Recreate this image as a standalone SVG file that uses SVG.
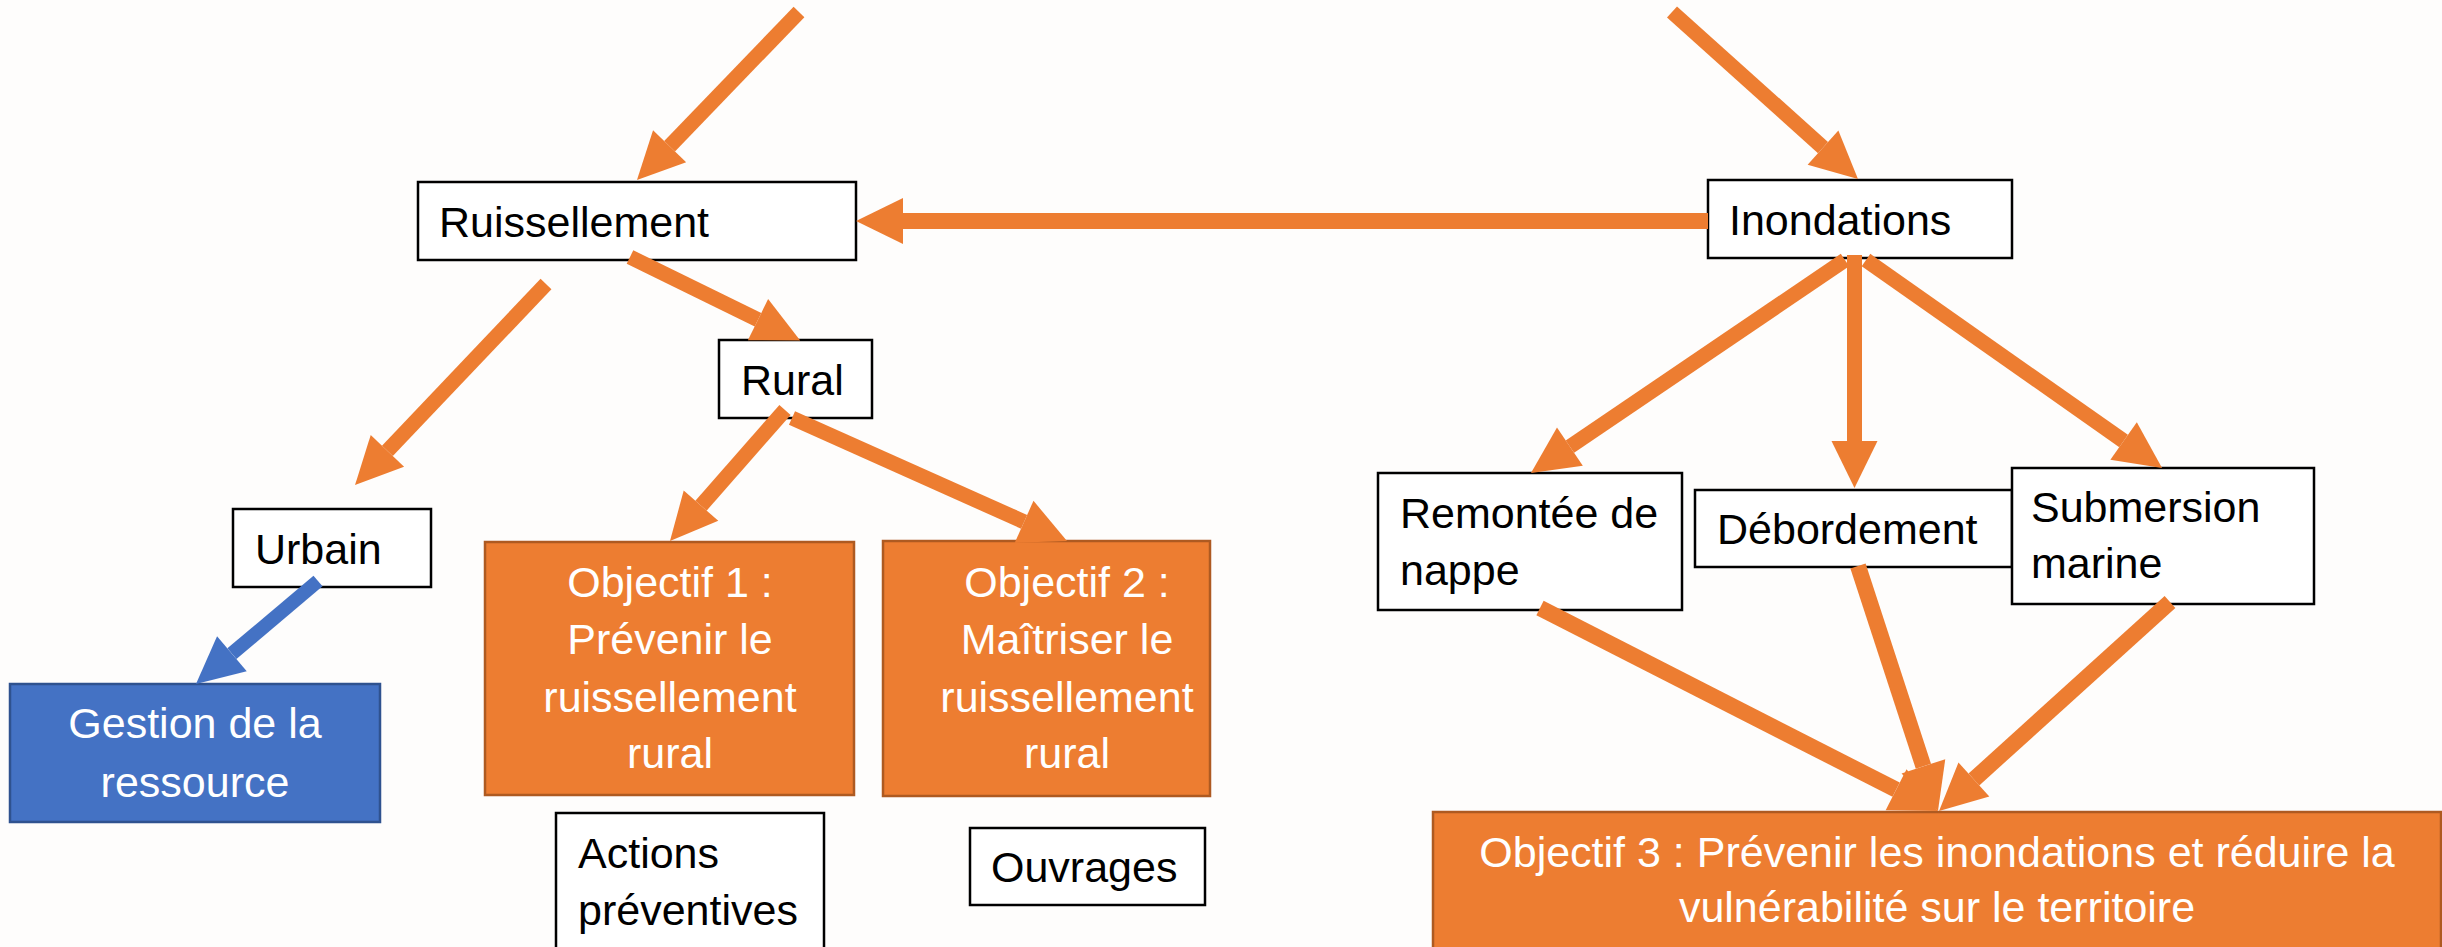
<svg xmlns="http://www.w3.org/2000/svg" width="2442" height="947" viewBox="0 0 2442 947">
<style>
.bg{fill:#fefdfc}
.wb{fill:#ffffff;stroke:#000000;stroke-width:2.5}
.ob{fill:#ED7D31;stroke:#AE5A21;stroke-width:2.5}
.bb{fill:#4472C4;stroke:#2F528F;stroke-width:2.5}
.t{font-family:"Liberation Sans",Arial,sans-serif;font-size:43px;fill:#000000}
.tw{font-family:"Liberation Sans",Arial,sans-serif;font-size:43px;fill:#ffffff;text-anchor:middle}
.ca{stroke:#ED7D31;stroke-width:15;fill:none;marker-end:url(#ho)}
.cb{stroke:#4472C4;stroke-width:14;fill:none;marker-end:url(#hb)}
</style>
<defs>
<marker id="ho" markerUnits="userSpaceOnUse" orient="auto" refX="0" refY="0" markerWidth="50" markerHeight="50" overflow="visible">
<path d="M0,-23 L47,0 L0,23 Z" fill="#ED7D31"/>
</marker>
<marker id="hb" markerUnits="userSpaceOnUse" orient="auto" refX="0" refY="0" markerWidth="50" markerHeight="50" overflow="visible">
<path d="M0,-23 L47,0 L0,23 Z" fill="#4472C4"/>
</marker>
</defs>
<rect class="bg" x="0" y="0" width="2442" height="947"/>

<g id="n-ruissellement"><rect class="wb" x="418" y="182" width="438" height="78"/><text class="t" x="439" y="237">Ruissellement</text></g>
<g id="n-inondations"><rect class="wb" x="1708" y="180" width="304" height="78"/><text class="t" x="1729" y="235">Inondations</text></g>
<g id="n-rural"><rect class="wb" x="719" y="340" width="153" height="78"/><text class="t" x="741" y="395">Rural</text></g>
<g id="n-urbain"><rect class="wb" x="233" y="509" width="198" height="78"/><text class="t" x="255" y="564">Urbain</text></g>
<g id="n-gestion"><rect class="bb" x="10" y="684" width="370" height="138"/><text class="tw" x="195" y="738">Gestion de la</text><text class="tw" x="195" y="797">ressource</text></g>
<g id="n-obj1"><rect class="ob" x="485" y="542" width="369" height="253"/><text class="tw" x="670" y="597">Objectif 1 :</text><text class="tw" x="670" y="654">Prévenir le</text><text class="tw" x="670" y="712">ruissellement</text><text class="tw" x="670" y="768">rural</text></g>
<g id="n-obj2"><rect class="ob" x="883" y="541" width="327" height="255"/><text class="tw" x="1067" y="597">Objectif 2 :</text><text class="tw" x="1067" y="654">Maîtriser le</text><text class="tw" x="1067" y="712">ruissellement</text><text class="tw" x="1067" y="768">rural</text></g>
<g id="n-actions"><rect class="wb" x="556" y="813" width="268" height="150"/><text class="t" x="578" y="868">Actions</text><text class="t" x="578" y="925">préventives</text></g>
<g id="n-ouvrages"><rect class="wb" x="970" y="828" width="235" height="77"/><text class="t" x="991" y="882">Ouvrages</text></g>
<g id="n-remontee"><rect class="wb" x="1378" y="473" width="304" height="137"/><text class="t" x="1400" y="528">Remontée de</text><text class="t" x="1400" y="585">nappe</text></g>
<g id="n-debordement"><rect class="wb" x="1695" y="490" width="317" height="77"/><text class="t" x="1717" y="544">Débordement</text></g>
<g id="n-submersion"><rect class="wb" x="2012" y="468" width="302" height="136"/><text class="t" x="2031" y="522">Submersion</text><text class="t" x="2031" y="578">marine</text></g>
<g id="n-obj3"><rect class="ob" x="1433" y="812" width="1008" height="150"/><text class="tw" x="1937" y="867">Objectif 3 : Prévenir les inondations et réduire la</text><text class="tw" x="1937" y="922">vulnérabilité sur le territoire</text></g>

<g id="connectors">
<line class="ca" x1="799" y1="12" x2="669.6" y2="146.2"/>
<line class="ca" x1="1672" y1="12" x2="1823" y2="147.6"/>
<line class="ca" style="stroke-width:16" x1="1708" y1="221" x2="903" y2="221"/>
<line class="ca" x1="546" y1="284" x2="387.4" y2="450.9"/>
<line class="ca" x1="630" y1="257" x2="758" y2="319.7"/>
<line class="ca" x1="785" y1="410" x2="701" y2="505.7"/>
<line class="ca" x1="792" y1="418" x2="1024.1" y2="521.8"/>
<line class="cb" x1="318" y1="581" x2="231.9" y2="653.7"/>
<line class="ca" x1="1845" y1="260" x2="1569.9" y2="446.6"/>
<line class="ca" x1="1854.5" y1="255" x2="1854.5" y2="441"/>
<line class="ca" x1="1866" y1="260" x2="2123.6" y2="441"/>
<line class="ca" style="stroke-width:16" x1="1540" y1="608" x2="1896.1" y2="789.7"/>
<line class="ca" style="stroke-width:16" x1="1858" y1="566" x2="1923.4" y2="766.3"/>
<line class="ca" style="stroke-width:16" x1="2170" y1="602" x2="1973.9" y2="779.5"/>
</g>
</svg>
